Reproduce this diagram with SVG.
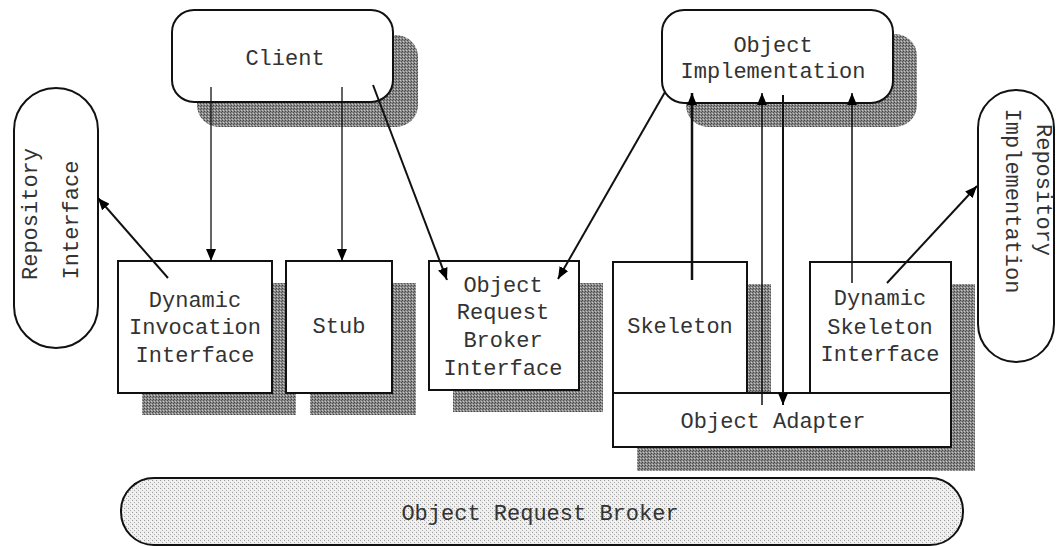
<svg xmlns="http://www.w3.org/2000/svg" width="1058" height="546" viewBox="0 0 1058 546">
<defs>
<pattern id="dark" width="3" height="3" patternUnits="userSpaceOnUse">
<rect width="3" height="3" fill="#8a8a8a"/>
<rect x="0" y="0" width="1" height="1" fill="#444"/>
<rect x="2" y="1" width="1" height="1" fill="#555"/>
<rect x="1" y="2" width="1" height="1" fill="#c8c8c8"/>
</pattern>
<pattern id="light" width="4" height="4" patternUnits="userSpaceOnUse">
<rect width="4" height="4" fill="#eeeeee"/>
<rect x="0" y="0" width="1" height="1" fill="#9a9a9a"/>
<rect x="2" y="2" width="1" height="1" fill="#b0b0b0"/>
<rect x="3" y="1" width="1" height="1" fill="#ffffff"/>
</pattern>
<marker id="ah" viewBox="0 0 12 10" refX="12" refY="5" markerWidth="12" markerHeight="10" markerUnits="userSpaceOnUse" orient="auto">
<path d="M0,0 L12,5 L0,10 Z" fill="#000"/>
</marker>
</defs>
<style>
.box{fill:#fff;stroke:#111;stroke-width:2}
.sh{fill:url(#dark);stroke:none}
.t{font-family:"Liberation Mono","Courier New",monospace;font-size:22px;fill:#333;text-anchor:middle}
.c{fill:none;stroke:#111}
</style>
<rect width="1058" height="546" fill="#fff"/>

<g id="orb">
<rect x="121" y="478" width="842" height="67" rx="33" fill="url(#light)" stroke="#111" stroke-width="2"/>
<text class="t" x="540" y="520">Object Request Broker</text>
</g>

<g id="client">
<rect class="sh" x="197" y="35" width="221" height="92" rx="22"/>
<rect class="box" x="172" y="10" width="221" height="92" rx="22"/>
<text class="t" x="285" y="65">Client</text>
</g>

<g id="object-implementation">
<rect class="sh" x="686" y="34" width="231" height="93" rx="22"/>
<rect class="box" x="662" y="10" width="231" height="93" rx="22"/>
<text class="t" x="773" y="52">Object</text>
<text class="t" x="773" y="78">Implementation</text>
</g>

<g id="repository-interface">
<rect class="box" x="14" y="88" width="84" height="260" rx="42"/>
<text class="t" transform="translate(37,214) rotate(-90)">Repository</text>
<text class="t" transform="translate(78,220) rotate(-90)">Interface</text>
</g>

<g id="repository-implementation">
<rect class="box" x="978" y="90" width="76" height="272" rx="38"/>
<text class="t" transform="translate(1037,190) rotate(90)">Repository</text>
<text class="t" transform="translate(1006,201) rotate(90)">Implementation</text>
</g>

<g id="dii">
<rect class="sh" x="142" y="283" width="154" height="132"/>
<rect class="box" x="118" y="261" width="154" height="132"/>
<text class="t" x="195" y="307">Dynamic</text>
<text class="t" x="195" y="334">Invocation</text>
<text class="t" x="195" y="362">Interface</text>
</g>

<g id="stub">
<rect class="sh" x="310" y="283" width="106" height="132"/>
<rect class="box" x="286" y="261" width="106" height="132"/>
<text class="t" x="339" y="333">Stub</text>
</g>

<g id="orb-interface">
<rect class="sh" x="453" y="283" width="150" height="129"/>
<rect class="box" x="429" y="261" width="150" height="129"/>
<text class="t" x="503" y="292">Object</text>
<text class="t" x="503" y="319">Request</text>
<text class="t" x="503" y="347">Broker</text>
<text class="t" x="503" y="375">Interface</text>
</g>

<g id="skeleton">
<rect class="sh" x="637" y="284" width="134" height="136"/>
<rect class="box" x="613" y="262" width="134" height="131"/>
<text class="t" x="680" y="333">Skeleton</text>
</g>

<g id="dsi">
<rect class="sh" x="834" y="284" width="141" height="136"/>
<rect class="box" x="810" y="262" width="141" height="131"/>
<text class="t" x="880" y="305">Dynamic</text>
<text class="t" x="880" y="334">Skeleton</text>
<text class="t" x="880" y="361">Interface</text>
</g>

<g id="object-adapter">
<rect class="sh" x="637" y="417" width="338" height="54"/>
<rect class="box" x="613" y="393" width="338" height="54"/>
<text class="t" x="773" y="428">Object Adapter</text>
</g>

<g id="connectors">
<path class="c" stroke-width="1.3" d="M211,87 V261" marker-end="url(#ah)"/>
<path class="c" stroke-width="1.3" d="M342,87 V261" marker-end="url(#ah)"/>
<path class="c" stroke-width="2" d="M373,85 L447,280" marker-end="url(#ah)"/>
<path class="c" stroke-width="2" d="M665,92 L558,279" marker-end="url(#ah)"/>
<path class="c" stroke-width="2.5" d="M692,280 V93" marker-end="url(#ah)"/>
<path class="c" stroke-width="1.5" d="M762,405 V93" marker-end="url(#ah)"/>
<path class="c" stroke-width="2" d="M783,95 V405" marker-end="url(#ah)"/>
<path class="c" stroke-width="1.5" d="M852,283 V93" marker-end="url(#ah)"/>
<path class="c" stroke-width="2" d="M887,283 L977,186" marker-end="url(#ah)"/>
<path class="c" stroke-width="2" d="M168,278 L98,198" marker-end="url(#ah)"/>
</g>
</svg>
